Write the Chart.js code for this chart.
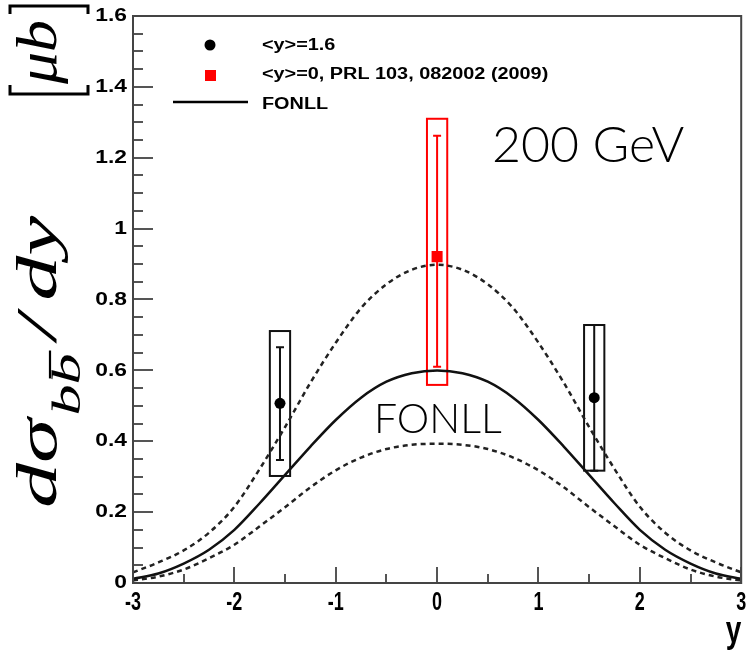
<!DOCTYPE html>
<html>
<head>
<meta charset="utf-8">
<script src="https://cdn.jsdelivr.net/npm/chart.js@4.4.1/dist/chart.umd.min.js"></script>
<style>
  html, body { margin: 0; padding: 0; background: #fff; }
  #wrap { width: 749px; height: 651px; }
</style>
</head>
<body>
<div id="wrap"><canvas id="xsec" width="749" height="651"></canvas></div>
<script>
// FONLL b-bbar rapidity spectrum (central value and upper/lower band), step 0.25 in y
const rapidity = [-3, -2.75, -2.5, -2.25, -2, -1.75, -1.5, -1.25, -1, -0.75, -0.5, -0.25, 0,
                  0.25, 0.5, 0.75, 1, 1.25, 1.5, 1.75, 2, 2.25, 2.5, 2.75, 3];
const fonllCentral = [0.012, 0.027, 0.055, 0.094, 0.150, 0.225, 0.305, 0.385, 0.460, 0.523, 0.568, 0.592, 0.600,
                      0.592, 0.568, 0.523, 0.460, 0.385, 0.305, 0.225, 0.150, 0.094, 0.055, 0.027, 0.012];
const fonllUpper = [0.030, 0.058, 0.092, 0.142, 0.215, 0.322, 0.440, 0.565, 0.678, 0.776, 0.843, 0.884, 0.898,
                    0.884, 0.843, 0.776, 0.678, 0.565, 0.440, 0.322, 0.215, 0.142, 0.092, 0.058, 0.030];
const fonllLower = [0.007, 0.018, 0.038, 0.070, 0.108, 0.160, 0.214, 0.270, 0.318, 0.354, 0.378, 0.390, 0.393,
                    0.390, 0.378, 0.354, 0.318, 0.270, 0.214, 0.160, 0.108, 0.070, 0.038, 0.018, 0.007];

// forward measurements, <y> = 1.6
const fwdY = [-1.55, 1.55];
const fwdVal = [0.507, 0.523];
const fwdStatLow = [0.347, 0.317];
const fwdStatHigh = [0.665, 0.728];
const fwdSysLow = [0.302, 0.317];
const fwdSysHigh = [0.711, 0.728];

// mid-rapidity measurement, PRL 103, 082002 (2009)
const midY = [0];
const midVal = [0.921];
const midStatLow = [0.610];
const midStatHigh = [1.262];
const midSysLow = [0.559];
const midSysHigh = [1.310];

const xTickLabels = [-3, -2, -1, 0, 1, 2, 3];
const yTickLabels = [0, 0.2, 0.4, 0.6, 0.8, 1, 1.2, 1.4, 1.6];

const boxHalfWidth = 0.1;
const sansBold = 'bold %spx "Liberation Sans", Arial, sans-serif';
const fontOf = (px) => sansBold.replace('%s', px);

function pts(xs, ys) {
  return xs.map((v, i) => ({ x: v, y: ys[i] }));
}

function scaledText(ctx, str, x, y, font, sx, sy, align, baseline) {
  ctx.save();
  ctx.translate(x, y);
  ctx.scale(sx, sy);
  ctx.font = font;
  ctx.textAlign = align;
  ctx.textBaseline = baseline;
  ctx.fillText(str, 0, 0);
  ctx.restore();
}

// systematic boxes + statistical bars, under the markers
const errorBoxes = {
  id: 'errorBoxes',
  beforeDatasetsDraw(chart) {
    const { ctx, scales: { x, y } } = chart;
    const drawSet = (xs, sysLo, sysHi, statLo, statHi, color) => {
      ctx.save();
      ctx.strokeStyle = color;
      ctx.lineWidth = 2;
      xs.forEach((xv, i) => {
        const l = x.getPixelForValue(xv - boxHalfWidth);
        const r = x.getPixelForValue(xv + boxHalfWidth);
        const t = y.getPixelForValue(sysHi[i]);
        const b = y.getPixelForValue(sysLo[i]);
        ctx.strokeRect(l, t, r - l, b - t);
        const cx = x.getPixelForValue(xv);
        const st = y.getPixelForValue(statHi[i]);
        const sb = y.getPixelForValue(statLo[i]);
        ctx.beginPath();
        ctx.moveTo(cx, st); ctx.lineTo(cx, sb);
        ctx.moveTo(cx - 4, st); ctx.lineTo(cx + 4, st);
        ctx.moveTo(cx - 4, sb); ctx.lineTo(cx + 4, sb);
        ctx.stroke();
      });
      ctx.restore();
    };
    drawSet(fwdY, fwdSysLow, fwdSysHigh, fwdStatLow, fwdStatHigh, '#111');
    drawSet(midY, midSysLow, midSysHigh, midStatLow, midStatHigh, '#ff0000');
  }
};

// rotated y title: d sigma_{b bbar} / dy  [mu b]
function drawYTitle(ctx) {
  const big = 'italic 58px "Liberation Serif", "DejaVu Serif", serif';
  const small = 'italic 40px "Liberation Serif", "DejaVu Serif", serif';
  ctx.save();
  ctx.fillStyle = '#000';
  ctx.strokeStyle = '#000';
  ctx.translate(56, 508);
  ctx.rotate(-Math.PI / 2);
  ctx.scale(1.55, 1);
  ctx.textBaseline = 'alphabetic';
  ctx.textAlign = 'left';
  let cx = 0;
  ctx.font = big;
  ctx.fillText('dσ', cx, 0);
  cx += ctx.measureText('dσ').width + 2;
  ctx.font = small;
  const bw = ctx.measureText('b').width;
  ctx.fillText('b', cx, 24);
  cx += bw;
  ctx.fillText('b', cx, 24);
  ctx.lineWidth = 2.2;
  ctx.beginPath();
  ctx.moveTo(cx + 4, -6);
  ctx.lineTo(cx + bw + 2, -6);
  ctx.stroke();
  cx += bw + 9;
  ctx.font = big;
  ctx.fillText('/', cx, 0);
  cx += ctx.measureText('/').width + 9;
  ctx.fillText('dy', cx, 0);
  ctx.restore();

  // [ mu b ]
  ctx.save();
  ctx.fillStyle = '#000';
  ctx.translate(56, 84);
  ctx.rotate(-Math.PI / 2);
  ctx.scale(1.1, 1);
  ctx.font = big;
  ctx.textBaseline = 'alphabetic';
  ctx.fillText('μb', 0, 0);
  ctx.restore();

  ctx.save();
  ctx.strokeStyle = '#000';
  ctx.lineWidth = 3;
  ctx.beginPath();
  ctx.moveTo(10, 85); ctx.lineTo(10, 94); ctx.lineTo(88, 94); ctx.lineTo(88, 85);
  ctx.moveTo(10, 14); ctx.lineTo(10, 6); ctx.lineTo(88, 6); ctx.lineTo(88, 14);
  ctx.stroke();
  ctx.restore();
}

// frame, inward ticks, tick labels, axis titles, legend and annotations
const decorations = {
  id: 'decorations',
  afterDraw(chart) {
    const { ctx, chartArea: a, scales: { x, y } } = chart;
    ctx.save();

    // ticks
    ctx.strokeStyle = '#555';
    ctx.lineWidth = 2;
    ctx.beginPath();
    for (let v = 0; v <= 1.6001; v += 0.05) {
      const py = Math.round(y.getPixelForValue(v));
      const major = Math.abs(v / 0.2 - Math.round(v / 0.2)) < 1e-6;
      ctx.moveTo(a.left, py);
      ctx.lineTo(a.left + (major ? 20 : 10), py);
    }
    for (let v = -3; v <= 3.0001; v += 0.5) {
      const px = Math.round(x.getPixelForValue(v));
      const major = Math.abs(v - Math.round(v)) < 1e-6;
      ctx.moveTo(px, a.bottom);
      ctx.lineTo(px, a.bottom - (major ? 16 : 9));
    }
    ctx.stroke();

    // frame
    ctx.strokeStyle = '#444';
    ctx.lineWidth = 2;
    ctx.strokeRect(a.left, a.top, a.right - a.left, a.bottom - a.top);

    // tick labels
    ctx.fillStyle = '#000';
    yTickLabels.forEach((v) => {
      scaledText(ctx, String(v), a.left - 6, y.getPixelForValue(v), fontOf(19), 1.2, 1, 'right', 'middle');
    });
    xTickLabels.forEach((v) => {
      scaledText(ctx, String(v), x.getPixelForValue(v), 610, fontOf(18), 1, 1.45, 'center', 'alphabetic');
    });

    // x title
    scaledText(ctx, 'y', a.right, 642, fontOf(28), 1, 1.3, 'right', 'alphabetic');

    drawYTitle(ctx);

    // legend
    ctx.fillStyle = '#000';
    ctx.beginPath();
    ctx.arc(210, 45, 5.5, 0, Math.PI * 2);
    ctx.fill();
    ctx.fillStyle = '#ff0000';
    ctx.fillRect(205, 70, 11, 11);
    ctx.strokeStyle = '#000';
    ctx.lineWidth = 2.5;
    ctx.beginPath();
    ctx.moveTo(173, 102);
    ctx.lineTo(248, 102);
    ctx.stroke();
    ctx.fillStyle = '#000';
    scaledText(ctx, '<y>=1.6', 262, 46, fontOf(16), 1.24, 1, 'left', 'middle');
    scaledText(ctx, '<y>=0, PRL 103, 082002 (2009)', 262, 75, fontOf(16), 1.24, 1, 'left', 'middle');
    scaledText(ctx, 'FONLL', 262, 105, fontOf(16), 1.24, 1, 'left', 'middle');

    // annotations
    ctx.font = '300 50px Lato, "Open Sans", sans-serif';
    ctx.textAlign = 'left';
    ctx.textBaseline = 'alphabetic';
    ctx.fillText('200 GeV', 492, 162);
    ctx.font = '300 41px Lato, "Open Sans", sans-serif';
    ctx.fillText('FONLL', 374, 433);

    ctx.restore();
  }
};

new Chart(document.getElementById('xsec'), {
  type: 'scatter',
  data: {
    datasets: [
      {
        label: '<y>=0, PRL 103, 082002 (2009)',
        data: pts(midY, midVal),
        pointStyle: 'rect',
        pointRadius: 7.8,
        backgroundColor: '#ff0000',
        borderWidth: 0,
        showLine: false,
      },
      {
        label: '<y>=1.6',
        data: pts(fwdY, fwdVal),
        pointStyle: 'circle',
        pointRadius: 5.5,
        backgroundColor: '#000',
        borderWidth: 0,
        showLine: false,
      },
      {
        label: 'FONLL',
        data: pts(rapidity, fonllCentral),
        showLine: true,
        borderColor: '#111',
        borderWidth: 2.5,
        pointRadius: 0,
        cubicInterpolationMode: 'monotone',
      },
      {
        label: 'FONLL upper',
        data: pts(rapidity, fonllUpper),
        showLine: true,
        borderColor: '#222',
        borderWidth: 2.5,
        borderDash: [5, 4],
        pointRadius: 0,
        cubicInterpolationMode: 'monotone',
      },
      {
        label: 'FONLL lower',
        data: pts(rapidity, fonllLower),
        showLine: true,
        borderColor: '#222',
        borderWidth: 2.5,
        borderDash: [5, 4],
        pointRadius: 0,
        cubicInterpolationMode: 'monotone',
      },
    ],
  },
  options: {
    responsive: false,
    animation: false,
    events: [],
    layout: { padding: { top: 16, right: 6, left: 0, bottom: 0 } },
    plugins: { legend: { display: false }, tooltip: { enabled: false } },
    scales: {
      x: {
        type: 'linear', min: -3, max: 3,
        ticks: { display: false, stepSize: 1 },
        grid: { display: false },
        border: { display: false },
        afterFit(s) { s.height = 68; s.paddingLeft = 0; s.paddingRight = 0; },
      },
      y: {
        type: 'linear', min: 0, max: 1.6,
        ticks: { display: false, stepSize: 0.2 },
        grid: { display: false },
        border: { display: false },
        afterFit(s) { s.width = 133; s.paddingTop = 0; s.paddingBottom = 0; },
      },
    },
  },
  plugins: [errorBoxes, decorations],
});
</script>
</body>
</html>
